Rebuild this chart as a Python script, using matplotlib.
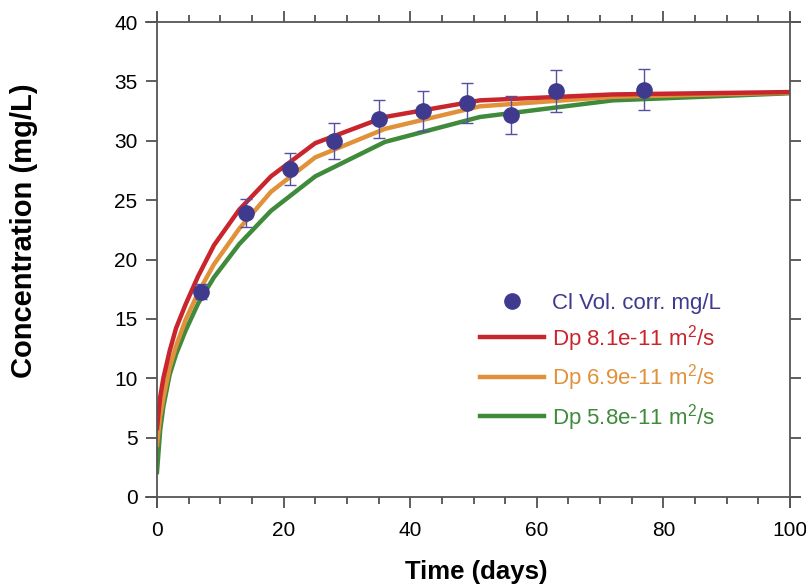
import numpy as np
import matplotlib
matplotlib.use("Agg")
import matplotlib.pyplot as plt
from matplotlib.ticker import MultipleLocator
from matplotlib.lines import Line2D

plt.rcParams['font.family'] = ['Liberation Sans', 'DejaVu Sans']
plt.rcParams['mathtext.fontset'] = 'custom'
plt.rcParams['mathtext.rm'] = 'Liberation Sans'
plt.rcParams['mathtext.it'] = 'Liberation Sans:italic'

# measured Cl concentrations (volume corrected)
days = [7, 14, 21, 28, 35, 42, 49, 56, 63, 77]
conc = [17.3, 23.9, 27.6, 30.0, 31.8, 32.5, 33.2, 32.2, 34.2, 34.3]
err = [0.6, 1.2, 1.35, 1.5, 1.6, 1.65, 1.7, 1.6, 1.75, 1.75]

# model curves for three pore diffusion coefficients
t_model = [0, 0.5, 1, 2, 3, 4.5, 6.5, 9, 13, 18, 25, 36, 51, 72, 100]
dp_81 = [5.8, 8.4, 10.0, 12.3, 14.2, 16.2, 18.6, 21.2, 24.2, 27.0, 29.8, 32.0, 33.4, 33.9, 34.1]
dp_69 = [4.4, 6.8, 8.3, 10.9, 12.7, 14.9, 17.2, 19.6, 22.6, 25.7, 28.6, 31.0, 32.9, 33.7, 34.05]
dp_58 = [2.1, 5.6, 7.6, 10.3, 12.0, 14.0, 16.3, 18.5, 21.3, 24.1, 27.0, 29.9, 32.0, 33.4, 34.0]

c_pts = '#403a8e'
c_red = '#c8252c'
c_ora = '#e0913a'
c_gre = '#3f8a3b'

fig = plt.figure(figsize=(8.06, 5.87), dpi=100)
ax = fig.add_axes([157/806, 1 - 497/587, 633/806, 475/587])

ax.plot(t_model, dp_58, color=c_gre, lw=3.2, solid_joinstyle='round')
ax.plot(t_model, dp_69, color=c_ora, lw=3.2, solid_joinstyle='round')
ax.plot(t_model, dp_81, color=c_red, lw=3.2, solid_joinstyle='round')

ax.errorbar(days, conc, yerr=err, fmt='none', ecolor='#5650a0', elinewidth=1.0,
            capsize=4, capthick=1.0, zorder=4)
ax.plot(days, conc, 'o', color=c_pts, ms=11, zorder=5)

ax.set_xlim(0, 100)
ax.set_ylim(0, 40)
ax.xaxis.set_major_locator(MultipleLocator(20))
ax.xaxis.set_minor_locator(MultipleLocator(5))
ax.yaxis.set_major_locator(MultipleLocator(5))

for s in ax.spines.values():
    s.set_color('#555555')
    s.set_linewidth(1.3)
ax.spines['bottom'].set_bounds(-1.8, 101.6)
ax.spines['top'].set_bounds(-1.8, 101.6)
ax.spines['left'].set_bounds(-0.8, 40.8)
ax.spines['right'].set_bounds(-0.8, 40.8)

ax.tick_params(which='both', direction='out', top=True, right=True,
               labelsize=15, color='#333333', width=1.1)
ax.tick_params(which='major', length=8)
ax.tick_params(which='minor', length=5)
ax.tick_params(axis='y', which='major', pad=6)
ax.tick_params(axis='x', which='major', pad=9)

ax.set_xlabel('Time (days)', fontsize=18.5, fontweight='bold')
ax.set_ylabel('Concentration (mg/L)', fontsize=21, fontweight='bold')
ax.xaxis.set_label_coords(0.505, -0.133)
ax.yaxis.set_label_coords(-0.188, 0.561)

handles = [
    Line2D([], [], ls='none', marker='o', color=c_pts, ms=11),
    Line2D([], [], color=c_red, lw=3.2),
    Line2D([], [], color=c_ora, lw=3.2),
    Line2D([], [], color=c_gre, lw=3.2),
]
labels = ['Cl Vol. corr. mg/L', 'Dp 8.1e-11 m$^2$/s',
          'Dp 6.9e-11 m$^2$/s', 'Dp 5.8e-11 m$^2$/s']
leg = ax.legend(handles, labels, loc='upper left', bbox_to_anchor=(0.51, 0.4295),
                frameon=False, fontsize=16, handlelength=2.9, handletextpad=0.35,
                labelspacing=0.39, borderpad=0, borderaxespad=0)
for txt, col in zip(leg.get_texts(), [c_pts, c_red, c_ora, c_gre]):
    txt.set_color(col)

fig.savefig('out.png', dpi=100)
